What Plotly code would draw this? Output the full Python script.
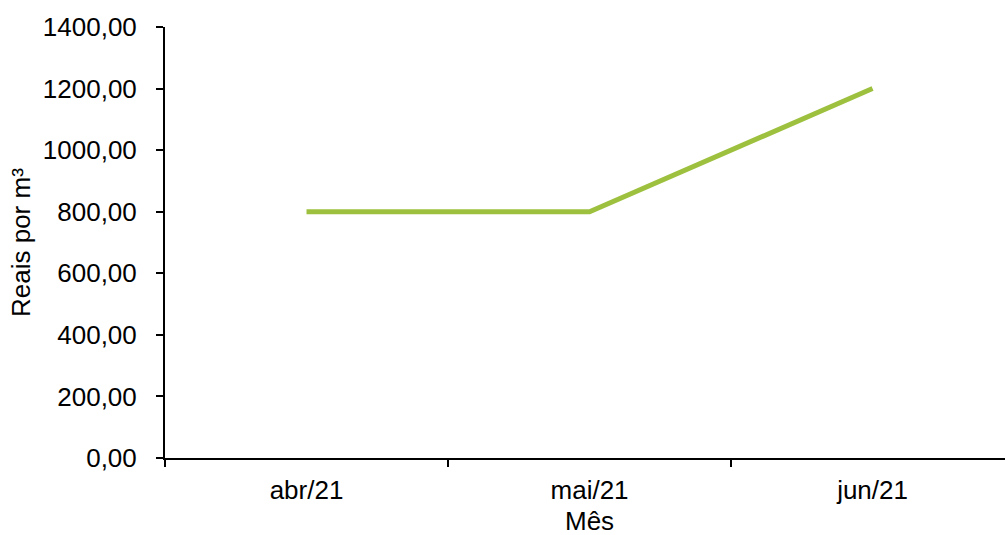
import plotly.graph_objects as go

# Monthly price series
months = ["abr/21", "mai/21", "jun/21"]
prices = [800.0, 800.0, 1200.0]

y_ticks = [0, 200, 400, 600, 800, 1000, 1200, 1400]
y_tick_text = [f"{v:.2f}".replace(".", ",") for v in y_ticks]

font_family = "Liberation Sans, Arial, sans-serif"
font_size = 26

fig = go.Figure()
fig.add_trace(go.Scatter(
    x=months,
    y=prices,
    mode="lines",
    line=dict(color="#9DC13F", width=5),
    hoverinfo="x+y",
))

fig.update_layout(
    width=1005,
    height=535,
    margin=dict(l=165, r=0, t=27, b=77),
    paper_bgcolor="white",
    plot_bgcolor="white",
    showlegend=False,
    font=dict(family=font_family, size=font_size, color="black"),
)

fig.update_xaxes(
    type="category",
    categoryorder="array",
    categoryarray=months,
    range=[-0.5, 2.468],
    tickson="boundaries",
    ticks="outside",
    ticklen=7,
    tickwidth=2,
    tickcolor="black",
    showline=True,
    linewidth=2,
    linecolor="black",
    showgrid=False,
    zeroline=False,
    ticklabelstandoff=8,
    tickfont=dict(size=font_size),
    automargin=False,
)

fig.update_yaxes(
    range=[0, 1400],
    tickvals=y_ticks,
    ticktext=y_tick_text,
    ticks="outside",
    ticklen=7,
    tickwidth=2,
    tickcolor="black",
    showline=True,
    linewidth=2,
    linecolor="black",
    showgrid=False,
    zeroline=False,
    ticklabelstandoff=14,
    tickfont=dict(size=font_size),
    automargin=False,
)

# Axis titles placed as annotations so the plot area stays fixed
fig.add_annotation(
    text="Mês", xref="paper", yref="paper",
    x=0.5048, y=-0.146, xanchor="center", yanchor="middle",
    showarrow=False, font=dict(size=font_size),
)
fig.add_annotation(
    text="Reais por m³", xref="paper", yref="paper",
    x=-0.172, y=0.5, xanchor="center", yanchor="middle",
    textangle=-90, showarrow=False, font=dict(size=font_size),
)

fig.write_html("out.html")
